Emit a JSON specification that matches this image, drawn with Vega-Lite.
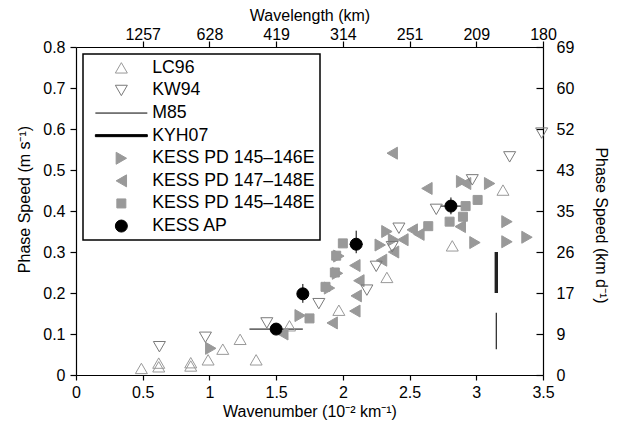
{
  "$schema": "https://vega.github.io/schema/vega-lite/v6.json",
  "width": 467,
  "height": 328,
  "autosize": {"type": "none"},
  "padding": {"left": 76, "top": 47, "right": 79, "bottom": 58},
  "background": "white",
  "datasets": {
    "pts": [
      {"series": "KESS PD 145–146E", "k": 1.01, "c": 0.065},
      {"series": "KESS PD 145–146E", "k": 1.68, "c": 0.145},
      {"series": "KESS PD 145–146E", "k": 1.90, "c": 0.212},
      {"series": "KESS PD 145–146E", "k": 1.96, "c": 0.248},
      {"series": "KESS PD 145–146E", "k": 1.97, "c": 0.290},
      {"series": "KESS PD 145–146E", "k": 2.28, "c": 0.317},
      {"series": "KESS PD 145–146E", "k": 2.33, "c": 0.350},
      {"series": "KESS PD 145–146E", "k": 2.38, "c": 0.330},
      {"series": "KESS PD 145–146E", "k": 2.89, "c": 0.472},
      {"series": "KESS PD 145–146E", "k": 3.10, "c": 0.467},
      {"series": "KESS PD 145–146E", "k": 3.23, "c": 0.374},
      {"series": "KESS PD 145–146E", "k": 2.99, "c": 0.323},
      {"series": "KESS PD 145–146E", "k": 3.23, "c": 0.325},
      {"series": "KESS PD 145–146E", "k": 3.38, "c": 0.336},
      {"series": "KESS PD 147–148E", "k": 1.55, "c": 0.100},
      {"series": "KESS PD 147–148E", "k": 1.92, "c": 0.127},
      {"series": "KESS PD 147–148E", "k": 2.09, "c": 0.156},
      {"series": "KESS PD 147–148E", "k": 2.10, "c": 0.193},
      {"series": "KESS PD 147–148E", "k": 2.12, "c": 0.230},
      {"series": "KESS PD 147–148E", "k": 2.09, "c": 0.267},
      {"series": "KESS PD 147–148E", "k": 2.29, "c": 0.280},
      {"series": "KESS PD 147–148E", "k": 2.38, "c": 0.300},
      {"series": "KESS PD 147–148E", "k": 2.45, "c": 0.330},
      {"series": "KESS PD 147–148E", "k": 2.37, "c": 0.541},
      {"series": "KESS PD 147–148E", "k": 2.63, "c": 0.455},
      {"series": "KESS PD 147–148E", "k": 2.52, "c": 0.354},
      {"series": "KESS PD 147–148E", "k": 2.57, "c": 0.343},
      {"series": "KESS PD 147–148E", "k": 2.92, "c": 0.467},
      {"series": "KESS PD 147–148E", "k": 2.88, "c": 0.362},
      {"series": "KESS PD 145–148E", "k": 1.75, "c": 0.138},
      {"series": "KESS PD 145–148E", "k": 1.87, "c": 0.215},
      {"series": "KESS PD 145–148E", "k": 1.94, "c": 0.250},
      {"series": "KESS PD 145–148E", "k": 1.95, "c": 0.291},
      {"series": "KESS PD 145–148E", "k": 2.00, "c": 0.321},
      {"series": "KESS PD 145–148E", "k": 2.64, "c": 0.363},
      {"series": "KESS PD 145–148E", "k": 2.80, "c": 0.374},
      {"series": "KESS PD 145–148E", "k": 2.92, "c": 0.412},
      {"series": "KESS PD 145–148E", "k": 2.90, "c": 0.386},
      {"series": "KESS PD 145–148E", "k": 3.01, "c": 0.427},
      {"series": "LC96", "k": 0.49, "c": 0.016},
      {"series": "LC96", "k": 0.62, "c": 0.029},
      {"series": "LC96", "k": 0.62, "c": 0.020},
      {"series": "LC96", "k": 0.86, "c": 0.030},
      {"series": "LC96", "k": 0.86, "c": 0.022},
      {"series": "LC96", "k": 0.99, "c": 0.037},
      {"series": "LC96", "k": 1.10, "c": 0.063},
      {"series": "LC96", "k": 1.23, "c": 0.087},
      {"series": "LC96", "k": 1.35, "c": 0.037},
      {"series": "LC96", "k": 1.60, "c": 0.120},
      {"series": "LC96", "k": 1.97, "c": 0.158},
      {"series": "LC96", "k": 2.33, "c": 0.238},
      {"series": "LC96", "k": 2.82, "c": 0.315},
      {"series": "LC96", "k": 3.20, "c": 0.451},
      {"series": "KW94", "k": 0.625, "c": 0.069},
      {"series": "KW94", "k": 0.97, "c": 0.092},
      {"series": "KW94", "k": 1.43, "c": 0.127},
      {"series": "KW94", "k": 1.82, "c": 0.174},
      {"series": "KW94", "k": 2.18, "c": 0.207},
      {"series": "KW94", "k": 2.25, "c": 0.265},
      {"series": "KW94", "k": 2.37, "c": 0.313},
      {"series": "KW94", "k": 2.42, "c": 0.358},
      {"series": "KW94", "k": 2.70, "c": 0.404},
      {"series": "KW94", "k": 2.97, "c": 0.476},
      {"series": "KW94", "k": 3.25, "c": 0.532},
      {"series": "KW94", "k": 3.49, "c": 0.590},
      {"series": "KESS AP", "k": 1.50, "c": 0.112},
      {"series": "KESS AP", "k": 1.70, "c": 0.198},
      {"series": "KESS AP", "k": 2.10, "c": 0.319},
      {"series": "KESS AP", "k": 2.81, "c": 0.412}
    ],
    "errh": [
      {"k": 1.30, "k2": 1.70, "c": 0.112},
      {"k": 2.05, "k2": 2.15, "c": 0.319},
      {"k": 2.73, "k2": 2.89, "c": 0.412}
    ],
    "errv": [
      {"k": 1.70, "c": 0.176, "c2": 0.222},
      {"k": 2.10, "c": 0.297, "c2": 0.352},
      {"k": 2.81, "c": 0.392, "c2": 0.433}
    ],
    "m85": [{"k": 3.15, "c": 0.063, "c2": 0.152}],
    "kyh": [{"k": 3.15, "c": 0.200, "c2": 0.300}]
  },
  "layer": [
    {
      "encoding": {
        "x": {
          "field": "k", "type": "quantitative",
          "scale": {"domain": [0, 3.5], "nice": false, "zero": false},
          "axis": {"orient": "bottom", "title": "Wavenumber (10⁻²  km⁻¹)", "values": [0, 0.5, 1, 1.5, 2, 2.5, 3, 3.5], "format": "~g", "tickSize": 5, "labelPadding": 4, "titlePadding": 3}
        },
        "y": {
          "field": "c", "type": "quantitative",
          "scale": {"domain": [0, 0.8], "nice": false, "zero": false},
          "axis": {"orient": "left", "title": "Phase Speed (m s⁻¹)", "values": [0, 0.1, 0.2, 0.3, 0.4, 0.5, 0.6, 0.7, 0.8], "format": "~g", "tickSize": 6, "labelPadding": 5, "titlePadding": 10, "titleY": 152}
        }
      },
      "layer": [
        {
          "data": {"name": "m85"},
          "mark": {"type": "rule", "color": "#222222", "strokeWidth": 1.2},
          "encoding": {"y2": {"field": "c2"}}
        },
        {
          "data": {"name": "kyh"},
          "mark": {"type": "rule", "color": "#222222", "strokeWidth": 3.4},
          "encoding": {"y2": {"field": "c2"}}
        },
        {
          "data": {"name": "errh"},
          "mark": {"type": "rule", "color": "black", "strokeWidth": 1},
          "encoding": {"x2": {"field": "k2"}}
        },
        {
          "data": {"name": "errv"},
          "mark": {"type": "rule", "color": "black", "strokeWidth": 1},
          "encoding": {"y2": {"field": "c2"}}
        },
        {
          "data": {"name": "pts"},
          "mark": {"type": "point", "filled": true, "opacity": 1, "strokeWidth": 1, "size": 144},
          "encoding": {
            "shape": {
              "field": "series", "type": "nominal", "title": null,
              "scale": {
                "domain": ["LC96", "KW94", "M85", "KYH07", "KESS PD 145–146E", "KESS PD 147–148E", "KESS PD 145–148E", "KESS AP"],
                "range": ["triangle-up", "triangle-down", "M-4.33,0H4.33", "M-4.33,-0.17H4.33V0.17H-4.33Z", "triangle-right", "triangle-left", "M-0.75,-0.75H0.75V0.75H-0.75Z", "circle"]
              }
            },
            "fill": {
              "field": "series", "type": "nominal", "title": null,
              "scale": {
                "domain": ["LC96", "KW94", "M85", "KYH07", "KESS PD 145–146E", "KESS PD 147–148E", "KESS PD 145–148E", "KESS AP"],
                "range": ["transparent", "transparent", "transparent", "black", "#999999", "#999999", "#999999", "black"]
              }
            },
            "stroke": {
              "field": "series", "type": "nominal", "title": null,
              "scale": {
                "domain": ["LC96", "KW94", "M85", "KYH07", "KESS PD 145–146E", "KESS PD 147–148E", "KESS PD 145–148E", "KESS AP"],
                "range": ["#999999", "#7a7a7a", "black", "black", "#999999", "#999999", "#999999", "black"]
              }
            }
          }
        }
      ]
    },
    {
      "data": {"name": "errv"},
      "mark": {"type": "point", "opacity": 0},
      "encoding": {
        "x": {
          "field": "k", "type": "quantitative",
          "scale": {"domain": [0, 3.5], "nice": false, "zero": false},
          "axis": {"orient": "top", "title": "Wavelength (km)", "values": [0.5, 1, 1.5, 2, 2.5, 3, 3.5], "labelExpr": "format(2*PI/(datum.value/100), '.0f')", "tickSize": 6, "labelPadding": -1, "titlePadding": 3}
        },
        "y": {
          "field": "c", "type": "quantitative",
          "scale": {"domain": [0, 0.8], "nice": false, "zero": false},
          "axis": {"orient": "right", "title": "Phase Speed  (km d⁻¹)", "values": [0, 0.1, 0.2, 0.3, 0.4, 0.5, 0.6, 0.7, 0.8], "labelExpr": "format(datum.value*86.4, '.0f')", "tickSize": -7, "labelPadding": 20, "titlePadding": 19, "titleY": 178}
        }
      }
    }
  ],
  "resolve": {"scale": {"x": "independent", "y": "independent"}},
  "config": {
    "view": {"stroke": null},
    "font": "Liberation Sans",
    "axis": {
      "grid": false,
      "domainColor": "black",
      "domainWidth": 1.2,
      "tickColor": "black",
      "tickWidth": 1.2,
      "labelColor": "black",
      "labelFont": "Liberation Sans",
      "labelFontSize": 16,
      "titleColor": "black",
      "titleFont": "Liberation Sans",
      "titleFontSize": 16,
      "titleFontWeight": "normal",
      "labelFlush": false,
      "labelOverlap": false
    },
    "legend": {
      "orient": "top-left",
      "offset": 7,
      "padding": 5,
      "strokeColor": "black",
      "strokeWidth": 1.5,
      "fillColor": "white",
      "labelFont": "Liberation Sans",
      "labelFontSize": 17.7,
      "labelColor": "black",
      "symbolSize": 144,
      "symbolStrokeWidth": 1,
      "symbolOffset": 24.5,
      "labelOffset": 22,
      "rowPadding": 3.6,
      "labelLimit": 400
    }
  }
}
